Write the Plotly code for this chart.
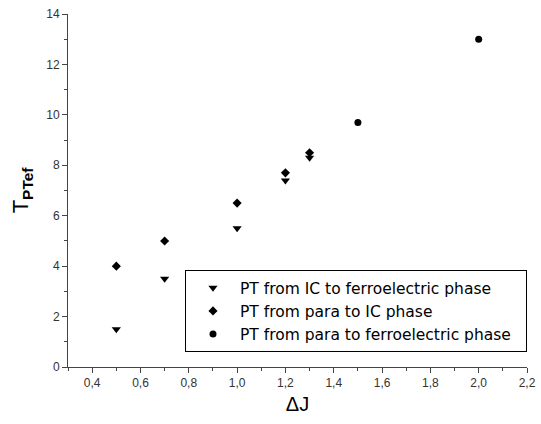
import plotly.graph_objects as go

# Data
dj_ic_ferro = [0.5, 0.7, 1.0, 1.2, 1.3]
t_ic_ferro = [1.5, 3.5, 5.5, 7.4, 8.3]

dj_para_ic = [0.5, 0.7, 1.0, 1.2, 1.3]
t_para_ic = [4.0, 5.0, 6.5, 7.7, 8.5]

dj_para_ferro = [1.5, 2.0]
t_para_ferro = [9.7, 13.0]

x_tickvals = [0.4, 0.6, 0.8, 1.0, 1.2, 1.4, 1.6, 1.8, 2.0, 2.2]
x_ticktext = ["0,4", "0,6", "0,8", "1,0", "1,2", "1,4", "1,6", "1,8", "2,0", "2,2"]
y_tickvals = [0, 2, 4, 6, 8, 10, 12, 14]

series_names = [
    "PT from IC to ferroelectric phase",
    "PT from para to IC phase",
    "PT from para to ferroelectric phase",
]

pad = "\u00a0\u00a0"  # invisible right padding inside the legend box

fig = go.Figure()
fig.add_trace(go.Scatter(x=dj_ic_ferro, y=t_ic_ferro, mode="markers", name=series_names[0] + pad,
                         legendgroup="a",
                         marker=dict(symbol="triangle-down", size=8, color="black")))
fig.add_trace(go.Scatter(x=dj_para_ic, y=t_para_ic, mode="markers", name=series_names[1] + pad,
                         legendgroup="b",
                         marker=dict(symbol="diamond", size=7, color="black")))
fig.add_trace(go.Scatter(x=dj_para_ferro, y=t_para_ferro, mode="markers", name=series_names[2] + pad,
                         legendgroup="c",
                         marker=dict(symbol="circle", size=7, color="black")))

font_family = "Liberation Sans, Arial, sans-serif"

fig.update_layout(
    width=541, height=424,
    margin=dict(l=68, r=14, t=14, b=57),
    paper_bgcolor="white", plot_bgcolor="white",
    font=dict(family=font_family, color="black"),
    showlegend=True,
    legend=dict(
        x=1, y=0.042, xanchor="right", yanchor="bottom",
        bordercolor="black", borderwidth=1, bgcolor="white",
        font=dict(size=15.5, family="DejaVu Sans, sans-serif", color="black"),
        itemwidth=44, tracegroupgap=0, traceorder="grouped",
    ),
    xaxis=dict(
        range=[0.3, 2.2], showgrid=False, zeroline=False, automargin=False,
        showline=True, linecolor="#444", linewidth=1,
        ticks="outside", ticklen=5, tickcolor="#444",
        tickvals=x_tickvals, ticktext=x_ticktext,
        tickfont=dict(size=12, color="#333"),
        minor=dict(ticks="outside", ticklen=3, tickcolor="#444", dtick=0.1, tick0=0.3),
        title=dict(text="ΔJ", font=dict(size=20), standoff=7),
    ),
    yaxis=dict(
        range=[0, 14], showgrid=False, zeroline=False, automargin=False,
        showline=True, linecolor="#444", linewidth=1,
        ticks="outside", ticklen=5, tickcolor="#444",
        tickvals=y_tickvals,
        tickfont=dict(size=12, color="#333"),
        minor=dict(ticks="outside", ticklen=3, tickcolor="#444", dtick=1, tick0=0),
        title=dict(text="T<sub><b>PTef</b></sub>", font=dict(size=22), standoff=11),
    ),
)

fig.write_html("out.html", config={"displayModeBar": False},
               post_script="document.body.style.margin='0';")
